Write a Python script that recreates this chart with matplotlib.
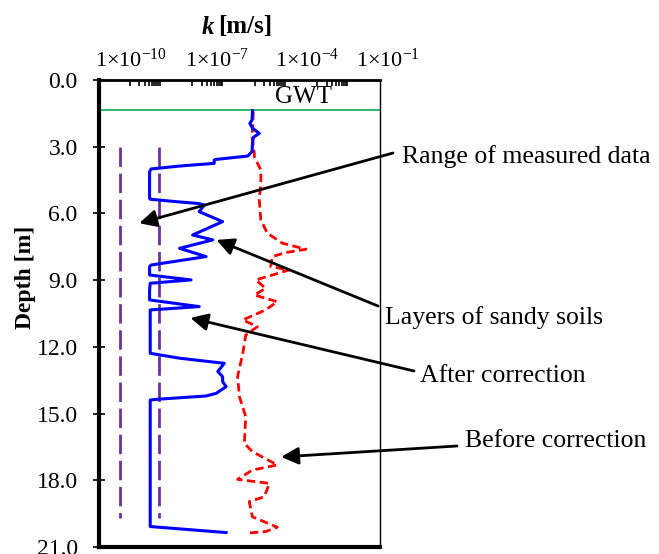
import numpy as np
import matplotlib
matplotlib.use('Agg')
import matplotlib.pyplot as plt

plt.rcParams['font.family'] = ['Liberation Serif', 'DejaVu Serif']
plt.rcParams['mathtext.fontset'] = 'custom'
plt.rcParams['mathtext.rm'] = 'Liberation Serif'
plt.rcParams['mathtext.it'] = 'Liberation Serif:italic'
plt.rcParams['mathtext.bf'] = 'Liberation Serif:bold'

# after correction (blue)
after_depth = [1.38, 1.80, 1.95, 2.17, 2.40, 2.58, 2.85, 3.22, 3.42, 3.57, 3.60, 3.75,
               3.87, 4.00, 4.12, 5.32, 5.36, 5.47, 5.55, 5.62, 5.92, 6.37, 6.97, 7.19,
               7.57, 7.94, 8.32, 8.39, 8.77, 8.99, 9.14, 9.44, 9.89, 10.19, 10.34, 12.29,
               12.51, 12.74, 13.11, 13.34, 13.56, 13.79, 14.09, 14.21, 14.35, 14.39, 20.08, 20.35]
after_k = [8.4e-7, 8.1e-7, 6.9e-7, 8.4e-7, 1.38e-6, 8.9e-7, 8.4e-7, 8.1e-7, 5.9e-7, 5.8e-8, 5.0e-8, 5.0e-8,
           3.9e-9, 4.8e-10, 4.3e-10, 4.3e-10, 4.5e-10, 3.0e-9, 1.48e-8, 2.4e-8, 1.66e-8, 9.3e-8, 1.02e-8, 4.5e-8,
           3.9e-9, 2.75e-8, 4.8e-10, 4.3e-10, 4.3e-10, 9.1e-9, 4.5e-10, 4.3e-10, 4.3e-10, 1.66e-8, 4.5e-10, 4.5e-10,
           3.9e-9, 1.05e-7, 6.5e-8, 9.3e-8, 9.3e-8, 1.2e-7, 5.8e-8, 2.75e-8, 8.9e-10, 4.5e-10, 4.5e-10, 1.2e-7]

# before correction (red)
before_depth = [1.42, 2.55, 3.30, 3.45, 4.05, 4.65, 5.40, 6.29, 6.89, 7.34, 7.61, 7.76, 7.94,
                8.39, 8.54, 8.99, 9.37, 9.67, 9.97, 10.34, 10.79, 11.09, 11.47, 12.29, 13.34,
                14.24, 15.14, 16.34, 16.71, 17.31, 17.54, 17.96, 18.14, 18.74, 18.96, 19.64,
                20.11, 20.31, 20.38]
before_k = [8.9e-7, 8.1e-7, 9.6e-7, 9.6e-7, 1.55e-6, 1.55e-6, 1.38e-6, 1.55e-6, 2.5e-6, 7.6e-6, 4.3e-5, 9.8e-6, 3.6e-6,
            3.2e-6, 1.26e-5, 1.07e-6, 2.2e-6, 9.6e-7, 5.2e-6, 2.2e-6, 4.1e-7, 1.2e-6, 5.1e-7, 4.1e-7, 2.8e-7,
            3.2e-7, 5.1e-7, 4.6e-7, 8.3e-7, 5.2e-6, 8.3e-7, 2.8e-7, 2.9e-6, 2.0e-6, 6.6e-7, 8.3e-7,
            5.2e-6, 2.2e-6, 5.1e-7]

# range of measured data (purple)
range_k = [4.7e-11, 8.3e-10]
range_depth = [3.0, 19.7]

gwt_depth = 1.35

y_ticks = [0, 3, 6, 9, 12, 15, 18, 21]
x_tick_labels = ['1\u00d710$^{-10}$', '1\u00d710$^{-7}$', '1\u00d710$^{-4}$', '1\u00d710$^{-1}$']
x_label_px = [131, 217, 307, 388]

W, H = 659, 554
fig = plt.figure(figsize=(W / 100, H / 100), dpi=100)
L, R, T, B = 98.5, 380, 80, 547
ax = fig.add_axes([L / W, 1 - B / H, (R - L) / W, (B - T) / H])

ax.set_xscale('log')
ax.set_xlim(1e-11, 1e-2)
ax.set_ylim(21, 0)

ax.axhline(gwt_depth, color='#00B050', lw=1.2)
for k in range_k:
    ax.plot([k, k], range_depth, color='#7030A0', lw=2, dashes=(7, 2.4))
ax.plot(before_k, before_depth, color='#FF0000', lw=2, dashes=(3, 1.6))
ax.plot(after_k, after_depth, color='#0000FF', lw=2.2)

# x axis on top, ticks inside
ax.xaxis.tick_top()
majors = [1e-10, 1e-8, 1e-6, 1e-4]
ax.set_xticks(majors)
ax.set_xticks([m * i for m in majors for i in range(2, 10)], minor=True)
ax.set_xticklabels([])
ax.set_xticklabels([], minor=True)
ax.tick_params(axis='x', which='both', direction='in', length=4, width=1.2, top=True, bottom=False)

ax.set_yticks(y_ticks)
ax.set_yticklabels([f'{v:.1f}' for v in y_ticks], fontsize=17)
ax.tick_params(axis='y', which='both', direction='inout', length=8, width=1.2, pad=11)
ax.yaxis.set_minor_locator(plt.NullLocator())

ax.spines['left'].set_linewidth(3)
ax.spines['bottom'].set_linewidth(3)
ax.spines['top'].set_linewidth(2)
ax.spines['right'].set_linewidth(1)

for lab, px in zip(x_tick_labels, x_label_px):
    fig.text(px / W, 1 - 60 / H, lab, ha='center', va='center', fontsize=16)

fig.text(214 / W, 1 - 27 / H, 'k', ha='right', va='center', fontsize=18,
         fontweight='bold', fontstyle='italic')
fig.text(218 / W, 1 - 27 / H, '[m/s]', ha='left', va='center', fontsize=18, fontweight='bold')
fig.text(25 / W, 1 - 277 / H, 'Depth [m]', ha='center', va='center', fontsize=17,
         fontweight='bold', rotation=90)

ax.text(304 / W, 1 - 97 / H, 'GWT', transform=fig.transFigure, ha='center', va='center', fontsize=18)

# annotations: (text, text left px, text y px, tail px, tip k, tip depth)
notes = [
    ('Range of measured data', 402, 157, (393, 153), 2.0e-10, 6.44),
    ('Layers of sandy soils', 385, 318, (378, 306), 5.9e-8, 7.19),
    ('After correction', 420, 376, (414, 371), 8.7e-9, 10.70),
    ('Before correction', 465, 441, (457, 446), 6.9e-6, 16.95),
]
for txt, tx, ty, tail, tk, td in notes:
    fig.text(tx / W, 1 - ty / H, txt, ha='left', va='center', fontsize=18.5)
    ax.annotate('', xy=(tk, td), xycoords='data',
                xytext=(tail[0] / W, 1 - tail[1] / H), textcoords='figure fraction',
                arrowprops=dict(arrowstyle='-|>', color='black', lw=2, mutation_scale=26,
                                shrinkA=0, shrinkB=0),
                annotation_clip=False)

fig.savefig('out.png', dpi=100)
